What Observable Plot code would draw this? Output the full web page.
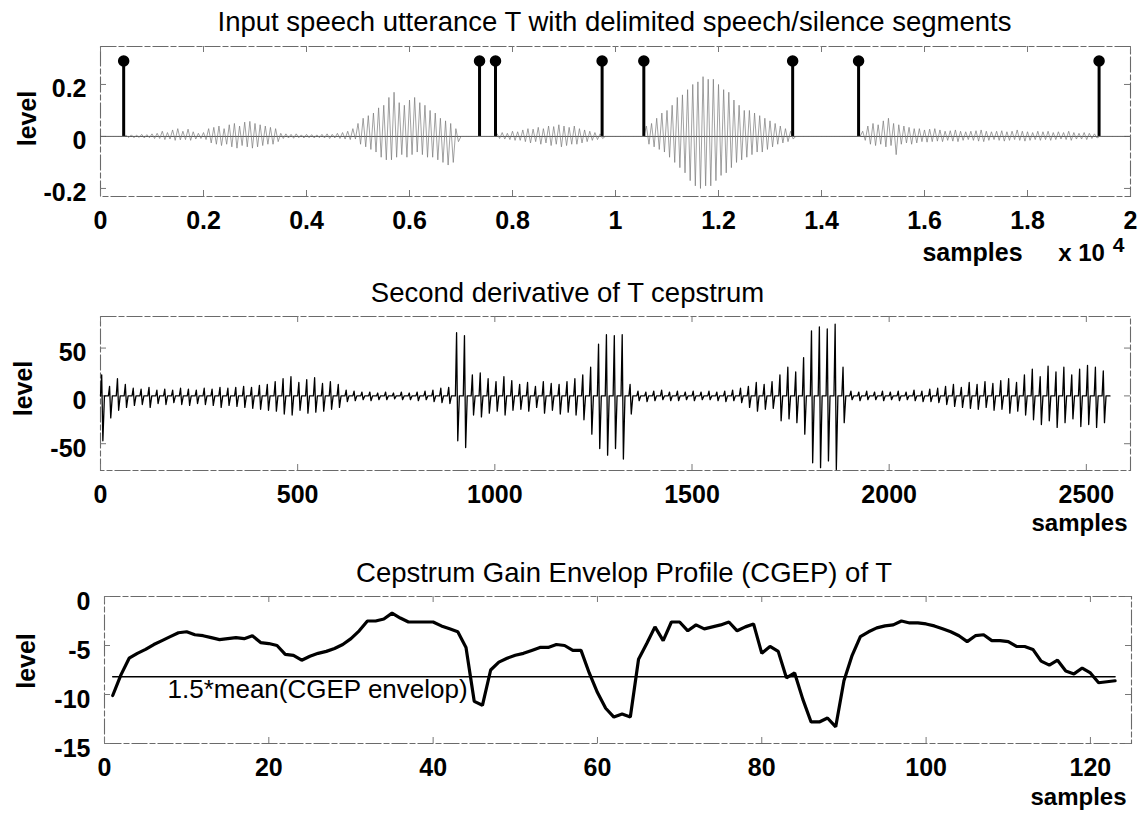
<!DOCTYPE html>
<html><head><meta charset="utf-8">
<script src="https://cdn.jsdelivr.net/npm/d3@7"></script>
<script src="https://cdn.jsdelivr.net/npm/@observablehq/plot@0.6"></script>
<style>
body{margin:0;background:#fff;}
#wrap{position:relative;width:1141px;height:813px;background:#fff;overflow:hidden;}
#wrap svg{position:absolute;left:0;}
</style></head><body><div id="wrap"></div>
<script>
// ---------- Panel 1: input utterance (max/min per 100-sample block) ----------
const titles = [
  "Input speech utterance T with delimited speech/silence segments",
  "Second derivative of T cepstrum",
  "Cepstrum Gain Envelop Profile (CGEP) of T"
];
const yLabel = "level";
const xLabel = "samples";
const waveBlock = 100;
const waveHi = [0,0,0,0,0,
 .004,.006,.005,.008,.007,.01,
 .012,.02,.015,.025,.03,.02,.028,.018,.012,
 .015,
 .03,.035,.04,.03,.045,.05,.04,.055,.058,.05,.045,.04,.035,.03,
 .012,.01,.008,.01,.006,.008,.007,.006,.008,.01,.008,.012,.015,.02,
 .03,.05,.07,.08,.09,.11,.12,.15,.17,.13,.12,.14,.15,.13,.12,.1,.09,.07,.06,.05,.03,
 0,0,0,0,0,0,0,
 .01,.015,.012,.02,.018,.025,.03,.028,.035,.03,.04,.038,.045,.04,.035,.04,.03,.025,.02,.015,.01,
 0,0,0,0,0,0,0,0,
 .04,.05,.07,.09,.1,.12,.15,.16,.18,.2,.21,.23,.22,.22,.2,.18,.17,.14,.12,.1,.1,.09,.08,.07,.06,.05,.04,.03,.02,
 0,0,0,0,0,0,0,0,0,0,0,0,0,
 .02,.04,.05,.045,.06,.07,.05,.045,.04,.035,.03,.03,.025,.028,.03,.025,.02,.022,.025,.02,.018,.02,.022,.025,.02,.018,.02,.022,.018,.02,.025,.02,.018,.015,.02,.018,.02,.015,.018,.015,.02,.015,.012,.015,.012,.01,
 0,0,0,0,0,0];
const waveLo = [0,0,0,0,0,
 -.004,-.005,-.004,-.006,-.005,-.008,
 -.008,-.012,-.01,-.015,-.013,-.012,-.015,-.01,-.008,
 -.012,
 -.025,-.03,-.035,-.03,-.04,-.045,-.035,-.04,-.045,-.04,-.035,-.03,-.03,-.02,
 -.008,-.006,-.007,-.005,-.006,-.005,-.006,-.005,-.006,-.008,-.006,-.008,-.01,-.012,
 -.01,-.03,-.04,-.05,-.06,-.08,-.09,-.09,-.08,-.07,-.08,-.07,-.06,-.07,-.08,-.08,-.09,-.1,-.11,-.1,-.02,
 0,0,0,0,0,0,0,
 -.008,-.01,-.012,-.015,-.015,-.02,-.025,-.02,-.03,-.025,-.035,-.03,-.04,-.035,-.03,-.03,-.025,-.02,-.015,-.012,-.008,
 0,0,0,0,0,0,0,0,
 -.03,-.04,-.05,-.06,-.08,-.1,-.12,-.14,-.17,-.19,-.2,-.19,-.19,-.17,-.15,-.14,-.12,-.1,-.09,-.08,-.07,-.06,-.06,-.05,-.04,-.03,-.025,-.02,-.01,
 0,0,0,0,0,0,0,0,0,0,0,0,0,
 -.015,-.03,-.035,-.03,-.04,-.035,-.07,-.03,-.025,-.03,-.025,-.02,-.022,-.02,-.018,-.02,-.015,-.018,-.02,-.015,-.012,-.015,-.018,-.02,-.015,-.012,-.015,-.018,-.015,-.012,-.015,-.018,-.015,-.012,-.015,-.012,-.015,-.012,-.01,-.012,-.015,-.01,-.01,-.012,-.008,-.006,
 0,0,0,0,0,0];
const stemSamples = [450, 7360, 7670, 9740, 10550, 13440, 14720, 19390];
const stemLevel = 0.29;
const x1Ticks = [0,2000,4000,6000,8000,10000,12000,14000,16000,18000,20000];
const x1TickLabels = ["0","0.2","0.4","0.6","0.8","1","1.2","1.4","1.6","1.8","2"];
const y1Ticks = [-0.2, 0, 0.2];
const y1TickLabels = ["-0.2","0","0.2"];
const x1Exponent = ["x 10", "4"];

// ---------- Panel 2: second derivative of cepstrum (per 20-sample frame peaks) ----------
const frameLen = 20;
const derivUp = [22,10,18,12,8,7,9,6,7,6,8,7,6,8,7,9,8,9,10,9,11,12,
 15,18,20,14,17,19,13,15,12,
 6,5,4,4,3,4,3,4,3,4,5,6,8,9,
 66,63,22,24,18,15,20,16,12,14,10,15,13,12,15,18,22,
 30,54,64,63,64,12,
 5,4,5,6,4,5,4,5,4,5,4,5,6,8,
 10,14,12,15,22,30,25,40,68,72,70,75,30,
 5,4,5,4,5,4,5,4,6,5,7,8,
 10,12,9,14,12,15,13,16,18,14,
 22,28,20,31,25,30,22,28,32,30,26];
const derivDown = [-47,-23,-15,-12,-10,-9,-12,-8,-9,-7,-9,-10,-8,-9,-10,-12,-10,-11,-12,-13,-14,-15,
 -16,-19,-20,-15,-18,-17,-16,-14,-12,
 -6,-5,-4,-5,-4,-4,-3,-4,-4,-5,-4,-6,-7,-8,
 -47,-54,-20,-22,-18,-16,-20,-15,-14,-16,-12,-18,-15,-19,-17,-20,-25,
 -40,-55,-62,-55,-66,-19,
 -5,-6,-5,-4,-5,-5,-4,-5,-4,-4,-5,-6,-5,-7,
 -12,-16,-14,-13,-26,-24,-28,-40,-70,-75,-68,-77,-28,
 -4,-5,-4,-4,-5,-4,-5,-4,-5,-6,-6,-7,
 -9,-11,-12,-13,-14,-12,-15,-14,-18,-16,
 -20,-25,-30,-26,-33,-28,-24,-32,-30,-33,-28];
const x2Ticks = [0,500,1000,1500,2000,2500];
const x2TickLabels = ["0","500","1000","1500","2000","2500"];
const y2Ticks = [-50,0,50];
const y2TickLabels = ["-50","0","50"];

// ---------- Panel 3: CGEP (frames 1..123) ----------
const cgep = [-10.1,-8.0,-6.3,-5.8,-5.4,-4.9,-4.5,-4.1,-3.7,-3.6,
 -3.9,-4.0,-4.2,-4.4,-4.3,-4.2,-4.3,-4.0,-4.7,-4.8,
 -5.0,-5.9,-6.0,-6.5,-6.1,-5.8,-5.6,-5.3,-4.9,-4.3,
 -3.5,-2.5,-2.5,-2.3,-1.7,-2.2,-2.6,-2.6,-2.6,-2.6,
 -3.0,-3.3,-3.6,-5.2,-10.7,-11.1,-7.5,-6.7,-6.3,-6.0,
 -5.8,-5.5,-5.2,-5.2,-4.9,-5.0,-5.5,-5.5,-7.8,-9.8,
 -11.4,-12.3,-12.0,-12.3,-6.4,-4.8,-3.1,-4.5,-2.6,-2.6,
 -3.5,-2.9,-3.3,-3.1,-2.9,-2.6,-3.5,-3.1,-2.8,-5.8,
 -5.1,-5.6,-8.3,-7.8,-10.5,-12.8,-12.8,-12.4,-13.3,-8.6,
 -6.0,-4.1,-3.6,-3.2,-3.0,-2.9,-2.5,-2.7,-2.7,-2.8,
 -3.0,-3.3,-3.6,-4.0,-4.6,-4.0,-3.9,-4.5,-4.5,-4.6,
 -5.1,-5.1,-5.4,-6.6,-7.0,-6.5,-7.6,-7.9,-7.3,-7.8,
 -8.8,-8.7,-8.6];
const threshold = -8.2;
const thresholdLabel = "1.5*mean(CGEP envelop)";
const x3Ticks = [0,20,40,60,80,100,120];
const x3TickLabels = ["0","20","40","60","80","100","120"];
const y3Ticks = [-15,-10,-5,0];
const y3TickLabels = ["-15","-10","-5","0"];

// ---------- build ----------
const FONT = "'Liberation Sans', Arial, Helvetica, sans-serif";
const wrap = document.getElementById("wrap");
const labeler = (ticks, labels) => { const m = new Map(ticks.map((t,i)=>[t, labels[i]])); return d => m.get(d); };
const C = {textAnchor:"middle", lineAnchor:"middle"};

function innerTicks(xt, yt, W, H) {
  const st = {stroke:"#777", strokeWidth:1};
  return [
    Plot.tickX(xt, {x: d=>d, insetTop: H-6, ...st}),
    Plot.tickX(xt, {x: d=>d, insetBottom: H-6, ...st}),
    Plot.tickY(yt, {y: d=>d, insetRight: W-6, ...st}),
    Plot.tickY(yt, {y: d=>d, insetLeft: W-6, ...st})
  ];
}
function commonAxes(xt, xl, yt, yl) {
  return [
    Plot.axisX(xt, {tickSize:0, tickPadding:15, tickFormat: labeler(xt, xl), fontWeight:"bold", fontSize:25, label:null}),
    Plot.axisY(yt, {tickSize:0, tickPadding:14, dy:5, tickFormat: labeler(yt, yl), fontWeight:"bold", fontSize:25, label:null})
  ];
}
function place(svg, top) { svg.style.top = top + "px"; wrap.appendChild(svg); }
const frameStyle = {stroke:"#6a6a6a", strokeWidth:1.1, strokeDasharray:"16,2,6,2"};

// Panel 1
const wavePts = [];
waveHi.forEach((h,i)=>{ wavePts.push({s:i*waveBlock, v:h}); wavePts.push({s:i*waveBlock+waveBlock/2, v:waveLo[i]}); });
wavePts.push({s: waveHi.length*waveBlock, v:0});
{
  const mL=100, mR=11, mT=46, mB=79, H=275;
  const p = Plot.plot({
    width:1141, height:H, marginTop:mT, marginBottom:mB, marginLeft:mL, marginRight:mR,
    style:{fontFamily:FONT, fontSize:"25px", color:"#000", background:"transparent"},
    x:{domain:[0,20000]}, y:{domain:[-0.231,0.346]},
    marks:[
      Plot.frame(frameStyle),
      ...innerTicks(x1Ticks, y1Ticks, 1141-mL-mR, H-mT-mB),
      Plot.ruleY([0], {stroke:"#222", strokeWidth:0.8}),
      Plot.line(wavePts, {x:"s", y:"v", stroke:"#7a7a7a", strokeWidth:0.7}),
      Plot.ruleX(stemSamples, {x:d=>d, y1:0, y2:stemLevel, stroke:"#000", strokeWidth:3}),
      Plot.dot(stemSamples, {x:d=>d, y:stemLevel, r:5, fill:"#000", stroke:"#000"}),
      ...commonAxes(x1Ticks, x1TickLabels, y1Ticks, y1TickLabels),
      Plot.text([titles[0]], {frameAnchor:"top", ...C, dx:-1, dy:-24, fontSize:27.5}),
      Plot.text([yLabel], {frameAnchor:"left", ...C, rotate:-90, dx:-73, dy:-3, fontSize:25, fontWeight:"bold"}),
      Plot.text([xLabel], {frameAnchor:"bottom-right", ...C, dx:-158, dy:56, fontSize:25, fontWeight:"bold"}),
      Plot.text([x1Exponent[0]], {frameAnchor:"bottom-right", ...C, dx:-49, dy:57, fontSize:24, fontWeight:"bold"}),
      Plot.text([x1Exponent[1]], {frameAnchor:"bottom-right", ...C, dx:-12, dy:49, fontSize:21, fontWeight:"bold"})
    ]
  });
  place(p, 0);
}

// Panel 2
const derivPts = [];
derivUp.forEach((u,k)=>{
  const s = k*frameLen;
  derivPts.push({s, v:0}, {s:s+3, v:u}, {s:s+6, v:derivDown[k]}, {s:s+10, v:0});
});
derivPts.push({s: derivUp.length*frameLen, v:0});
{
  const mL=100, mR=11, mT=41, mB=80, H=275;
  const p = Plot.plot({
    width:1141, height:H, marginTop:mT, marginBottom:mB, marginLeft:mL, marginRight:mR,
    style:{fontFamily:FONT, fontSize:"25px", color:"#000", background:"transparent"},
    x:{domain:[0,2612]}, y:{domain:[-78,83]},
    marks:[
      Plot.frame(frameStyle),
      ...innerTicks(x2Ticks, y2Ticks, 1141-mL-mR, H-mT-mB),
      Plot.line(derivPts, {x:"s", y:"v", stroke:"#000", strokeWidth:1.3}),
      ...commonAxes(x2Ticks, x2TickLabels, y2Ticks, y2TickLabels),
      Plot.text([titles[1]], {frameAnchor:"top", ...C, dx:-48, dy:-23, fontSize:27.5}),
      Plot.text([yLabel], {frameAnchor:"left", ...C, rotate:-90, dx:-77, dy:-5, fontSize:25, fontWeight:"bold"}),
      Plot.text([xLabel], {frameAnchor:"bottom-right", ...C, dx:-51, dy:53, fontSize:24, fontWeight:"bold"})
    ]
  });
  place(p, 275);
}

// Panel 3
const cgepPts = cgep.map((v,i)=>({t:i+1, v}));
const thrPts = [{t:cgepPts[0].t, v:threshold}, {t:cgepPts[cgepPts.length-1].t, v:threshold}];
{
  const mL=104, mR=10, mT=46, mB=70, H=263;
  const p = Plot.plot({
    width:1141, height:H, marginTop:mT, marginBottom:mB, marginLeft:mL, marginRight:mR,
    style:{fontFamily:FONT, fontSize:"25px", color:"#000", background:"transparent"},
    x:{domain:[0,125]}, y:{domain:[-15,0]},
    marks:[
      Plot.frame(frameStyle),
      ...innerTicks(x3Ticks, y3Ticks, 1141-mL-mR, H-mT-mB),
      Plot.line(thrPts, {x:"t", y:"v", stroke:"#000", strokeWidth:1.5}),
      Plot.line(cgepPts, {x:"t", y:"v", stroke:"#000", strokeWidth:3.2, strokeLinejoin:"miter"}),
      ...commonAxes(x3Ticks, x3TickLabels, y3Ticks, y3TickLabels),
      Plot.text([thresholdLabel], {frameAnchor:"left", textAnchor:"start", lineAnchor:"middle", dx:63, dy:20, fontSize:26}),
      Plot.text([titles[2]], {frameAnchor:"top", ...C, dx:6, dy:-23, fontSize:27.5}),
      Plot.text([yLabel], {frameAnchor:"left", ...C, rotate:-90, dx:-78, dy:-9, fontSize:25, fontWeight:"bold"}),
      Plot.text([xLabel], {frameAnchor:"bottom-right", ...C, dx:-53, dy:54, fontSize:24, fontWeight:"bold"})
    ]
  });
  place(p, 550);
}
</script>
</body></html>
